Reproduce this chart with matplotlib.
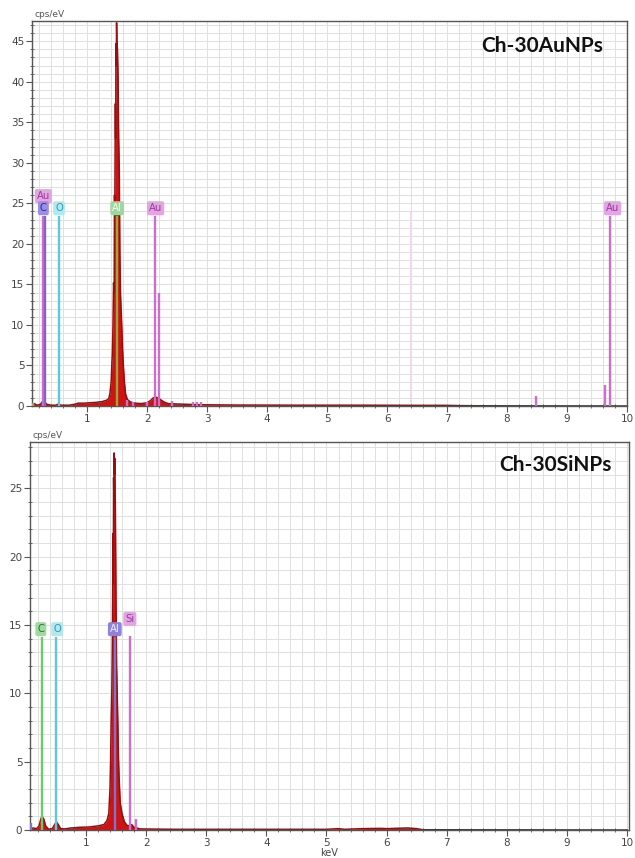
import numpy as np
import matplotlib
matplotlib.use("Agg")
import matplotlib.pyplot as plt
from matplotlib.patches import Rectangle
from matplotlib.ticker import MultipleLocator

# -----------------------------
# Spectrum data
# -----------------------------
au_energy = [0.08, 0.12, 0.16, 0.22, 0.26, 0.29, 0.33, 0.40, 0.48, 0.52, 0.56, 0.70,
             0.78, 0.85, 0.95, 1.05, 1.15, 1.25, 1.32, 1.36, 1.38, 1.40, 1.41, 1.42,
             1.43, 1.44, 1.45, 1.455, 1.46, 1.47, 1.475, 1.48, 1.485, 1.49, 1.495,
             1.505, 1.515, 1.525, 1.535, 1.545, 1.555, 1.565, 1.575, 1.59, 1.60,
             1.62, 1.64, 1.67, 1.72, 1.80, 1.90, 2.00, 2.06, 2.10, 2.14, 2.18, 2.22,
             2.28, 2.35, 2.50, 2.70, 2.90, 3.50, 4.50, 5.50, 6.50, 7.00, 7.20, 7.50,
             8.00, 10.0]
au_counts = [0.1, 0.3, 0.1, 0.2, 0.6, 0.5, 0.2, 0.1, 0.1, 0.25, 0.1, 0.1,
             0.2, 0.35, 0.35, 0.4, 0.45, 0.55, 0.7, 0.9, 1.6, 3.0, 5.0, 6.5,
             10.0, 15.2, 14.0, 26.0, 24.0, 37.3, 33.0, 44.7, 42.0, 47.3, 45.0,
             44.0, 40.5, 33.0, 29.3, 19.0, 14.0, 12.0, 10.2, 7.0, 5.4,
             3.0, 1.5, 0.8, 0.5, 0.35, 0.3, 0.4, 0.7, 1.0, 1.1, 1.0, 0.8,
             0.5, 0.3, 0.25, 0.2, 0.15, 0.12, 0.1, 0.1, 0.08, 0.08, 0.05, 0.03,
             0.02, 0.0]

si_energy = [0.07, 0.12, 0.18, 0.22, 0.25, 0.27, 0.30, 0.33, 0.38, 0.44, 0.48, 0.51,
             0.54, 0.58, 0.65, 0.75, 0.90, 1.05, 1.20, 1.30, 1.35, 1.38, 1.40, 1.41,
             1.42, 1.43, 1.44, 1.45, 1.455, 1.46, 1.465, 1.47, 1.475, 1.48, 1.485,
             1.49, 1.495, 1.50, 1.51, 1.52, 1.53, 1.54, 1.55, 1.57, 1.60, 1.64, 1.68,
             1.72, 1.76, 1.80, 1.90, 2.5, 5.0, 5.2, 5.3, 5.6, 5.9, 6.0, 6.35, 6.5,
             6.6, 10.0]
si_counts = [0.05, 0.15, 0.1, 0.3, 0.8, 1.0, 0.8, 0.3, 0.05, 0.1, 0.4, 0.6,
             0.4, 0.1, 0.08, 0.15, 0.2, 0.22, 0.3, 0.4, 0.7, 1.2, 3.0, 5.0,
             8.0, 10.0, 14.0, 21.7, 18.0, 25.8, 24.0, 27.6, 26.0, 27.2, 25.0,
             23.5, 20.0, 16.8, 12.0, 10.0, 8.0, 5.5, 4.0, 2.0, 1.2, 0.6, 0.35,
             0.3, 0.4, 0.2, 0.08, 0.05, 0.05, 0.1, 0.05, 0.1, 0.12, 0.1, 0.15, 0.1,
             0.02, 0.0]

# -----------------------------
# Element marker lines (keV, height, element)
# -----------------------------
au_line_keV = [0.26, 0.29, 0.53, 1.49, 2.13, 2.20, 9.72, 9.63, 8.49,
               0.10, 1.66, 1.76, 2.00, 2.42, 2.76, 2.83, 2.89]
au_line_height = [23.5, 23.5, 23.5, 23.5, 23.5, 14.0, 23.5, 2.6, 1.2,
                  0.4, 0.7, 0.5, 0.5, 0.6, 0.5, 0.5, 0.5]
au_line_elem = ["Au", "C", "O", "Al", "Au", "Au", "Au", "Au", "Au",
                "Al", "Au", "Au", "Au", "Au", "Au", "Au", "Au"]

si_line_keV = [0.27, 0.505, 1.48, 1.73, 0.09, 1.83]
si_line_height = [14.1, 14.1, 14.1, 14.2, 0.5, 0.8]
si_line_elem = ["C", "O", "Al", "Si", "Al", "Si"]

# label boxes (text, keV, cps/eV)
au_labels = ["Au", "C", "O", "Al", "Au", "Au"]
au_label_x = [0.27, 0.27, 0.53, 1.50, 2.14, 9.76]
au_label_y = [25.9, 24.4, 24.4, 24.4, 24.4, 24.4]

si_labels = ["C", "O", "Al", "Si"]
si_label_x = [0.25, 0.52, 1.48, 1.73]
si_label_y = [14.7, 14.7, 14.7, 15.45]

# -----------------------------
# Colours
# -----------------------------
top_line_col = {"Au": "#cc6fcc", "C": "#8a5fc8", "O": "#5cc8d8", "Al": "#9aaa3a"}
top_box = {"Au": ("#e2a6e2", "#9a3a9a"), "C": ("#9a8ee6", "#2f258a"),
           "O": ("#b2e9f1", "#2a9aaa"), "Al": ("#9ed89e", "#eefaee")}
bot_line_col = {"C": "#6acb6a", "O": "#5cc8d8", "Al": "#7d74d0", "Si": "#cc6fcc"}
bot_box = {"C": ("#9edb9e", "#2e6e2e"), "O": ("#b2e9f1", "#2a9aaa"),
           "Al": ("#8c84dc", "#f0f0ff"), "Si": ("#e2a6e2", "#9a3a9a")}

W, H = 635, 858
fig = plt.figure(figsize=(W / 100, H / 100), dpi=100)


def px_rect(left, top, right, bottom):
    return [left / W, 1 - bottom / H, (right - left) / W, (bottom - top) / H]


def setup(ax, ymax, xmin, xmax):
    ax.set_xlim(xmin, xmax)
    ax.set_ylim(0, ymax)
    ax.xaxis.set_major_locator(MultipleLocator(1))
    ax.xaxis.set_minor_locator(MultipleLocator(0.2))
    ax.yaxis.set_major_locator(MultipleLocator(5))
    ax.yaxis.set_minor_locator(MultipleLocator(1))
    ax.grid(which="both", color="#e0e0e0", lw=0.7)
    ax.set_axisbelow(True)
    ax.tick_params(which="major", direction="out", length=4, width=0.8,
                   color="#555555", labelsize=7.5, labelcolor="#444444", pad=1.5)
    ax.tick_params(which="minor", direction="inout", length=3, width=0.6,
                   color="#555555")
    ax.xaxis.set_major_formatter(plt.FuncFormatter(lambda v, p: "" if v == 0 else f"{v:g}"))
    for s in ax.spines.values():
        s.set_color("#555555")
        s.set_linewidth(1.0)
    ax.text(0.005, 1.004, "cps/eV", transform=ax.transAxes, fontsize=6.5,
            color="#555555", va="bottom", ha="left")


def draw(ax, energy, counts, lk, lh, le, lcol, labels, lx, ly, boxes):
    ax.fill_between(energy, counts, 0, color="#cc1414", lw=0, zorder=2)
    ax.plot(energy, counts, color="#9a0d0d", lw=1.1, zorder=2)
    for k, h, e in zip(lk, lh, le):
        ax.vlines(k, 0, h, color=lcol[e], lw=1.7, zorder=3)
    for t, x, y in zip(labels, lx, ly):
        fc, tc = boxes[t]
        ax.text(x, y, t, fontsize=7.2, color=tc, ha="center", va="center", zorder=4,
                bbox=dict(boxstyle="round,pad=0.2", fc=fc, ec="none"))


# -----------------------------
# Top panel: Ch-30AuNPs
# -----------------------------
ax1 = fig.add_axes(px_rect(32, 21, 627, 406))
setup(ax1, 47.5, 0.08, 10.0)
draw(ax1, au_energy, au_counts, au_line_keV, au_line_height, au_line_elem,
     top_line_col, au_labels, au_label_x, au_label_y, top_box)
ax1.vlines(6.38, 0.5, 24, color="#f3d8f3", lw=0.8, zorder=1)
ax1.set_xlabel("keV", fontsize=7, color="#555555", labelpad=2)
ax1.text(0.857, 0.934, "Ch-30AuNPs", transform=ax1.transAxes, fontsize=15,
         fontweight="bold", family="Lato", ha="center", va="center", color="#111111")

# cut the lower part of the top panel's axis title like in the source image
fig.patches.append(Rectangle((0, 0), 1, (H - 423) / H, transform=fig.transFigure,
                             facecolor="white", edgecolor="none", zorder=1))

# -----------------------------
# Bottom panel: Ch-30SiNPs
# -----------------------------
ax2 = fig.add_axes(px_rect(30, 442, 629, 830))
ax2.set_zorder(2)
setup(ax2, 28.4, 0.07, 10.03)
draw(ax2, si_energy, si_counts, si_line_keV, si_line_height, si_line_elem,
     bot_line_col, si_labels, si_label_x, si_label_y, bot_box)
ax2.set_xlabel("keV", fontsize=7, color="#444444", labelpad=0)
ax2.text(0.877, 0.94, "Ch-30SiNPs", transform=ax2.transAxes, fontsize=15,
         fontweight="bold", family="Lato", ha="center", va="center", color="#111111")

fig.savefig("out.png", dpi=100)
